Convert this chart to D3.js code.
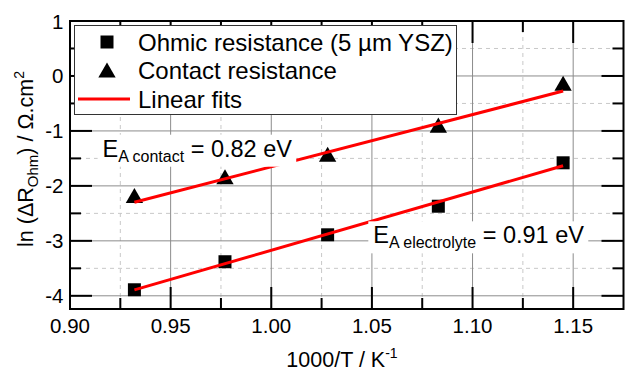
<!DOCTYPE html>
<html>
<head>
<meta charset="utf-8">
<script src="https://cdn.jsdelivr.net/npm/d3@7"></script>
<style>
body { margin:0; background:#fff; }
svg text { font-family: "Liberation Sans", Arial, Helvetica, sans-serif; fill:#000; }
</style>
</head>
<body>
<svg id="vis" width="625" height="370"></svg>
<script>
// 1000/T values of the five measurement temperatures
var invT = [0.932, 0.977, 1.028, 1.083, 1.145];
// ln(R) of the two series
var ohmic = [-3.89, -3.38, -2.89, -2.37, -1.58];
var contact = [-2.22, -1.88, -1.47, -0.94, -0.18];
var xTicks = [0.90, 0.95, 1.00, 1.05, 1.10, 1.15];
var xMinor = [0.925, 0.975, 1.025, 1.075, 1.125];
var yTicks = [-4, -3, -2, -1, 0, 1];
var yMinor = [-3.5, -2.5, -1.5, -0.5, 0.5];
var legendLabels = ["Ohmic resistance (5 \u00b5m YSZ)", "Contact resistance", "Linear fits"];

var margin = {left:70, right:1.5, top:21, bottom:61};
var W = 625, H = 370;
var svg = d3.select("#vis");

var x = d3.scaleLinear().domain([0.9, 1.175]).range([margin.left, W - margin.right]);
var y = d3.scaleLinear().domain([-4.24, 1]).range([H - margin.bottom, margin.top]);

// least squares line
function linfit(xs, ys) {
	var mx = d3.mean(xs), my = d3.mean(ys), sxy = 0, sxx = 0;
	for (var i = 0; i < xs.length; i++) {
		sxy += (xs[i]-mx)*(ys[i]-my);
		sxx += (xs[i]-mx)*(xs[i]-mx);
	}
	var b = sxy/sxx;
	return function(v){ return my + b*(v-mx); };
}

var x0 = x.range()[0], x1 = x.range()[1], y0 = y.range()[0], y1 = y.range()[1];

// grid
var grid = svg.append("g");
grid.selectAll("line.gxm").data(xMinor).enter().append("line")
	.attr("x1", x).attr("x2", x).attr("y1", y1).attr("y2", y0)
	.attr("stroke", "#c8c8c8").attr("stroke-dasharray", "4,4");
grid.selectAll("line.gym").data(yMinor).enter().append("line")
	.attr("x1", x0).attr("x2", x1).attr("y1", y).attr("y2", y)
	.attr("stroke", "#c8c8c8").attr("stroke-dasharray", "4,4");
grid.selectAll("line.gx").data(xTicks.slice(1)).enter().append("line")
	.attr("x1", x).attr("x2", x).attr("y1", y1).attr("y2", y0)
	.attr("stroke", "#8c8c8c");
grid.selectAll("line.gy").data(yTicks.slice(0, -1)).enter().append("line")
	.attr("x1", x0).attr("x2", x1).attr("y1", y).attr("y2", y)
	.attr("stroke", "#8c8c8c");

// markers
var marks = svg.append("g");
marks.selectAll("path.sq").data(invT).enter().append("path")
	.attr("d", d3.symbol(d3.symbolSquare, 169))
	.attr("transform", function(d, i){ return "translate(" + x(d) + "," + y(ohmic[i]) + ")"; })
	.attr("fill", "#000");
marks.selectAll("path.tri").data(invT).enter().append("path")
	.attr("d", d3.symbol(d3.symbolTriangle, 130))
	.attr("transform", function(d, i){ return "translate(" + x(d) + "," + y(contact[i]) + ")"; })
	.attr("fill", "#000");

// fits
var line = d3.line().x(function(d){ return x(d[0]); }).y(function(d){ return y(d[1]); });
[ohmic, contact].forEach(function(s){
	var f = linfit(invT, s);
	var ends = [invT[0], invT[invT.length-1]];
	svg.append("path")
		.attr("d", line(ends.map(function(v){ return [v, f(v)]; })))
		.attr("stroke", "#ff0000").attr("stroke-width", 3).attr("fill", "none");
});

// activation energy labels with white boxes
function label(px, py, sub, rest) {
	var g = svg.append("g");
	var bg = g.append("rect").attr("fill", "#fff");
	var t = g.append("text").attr("x", px).attr("y", py).style("font-size", "23.5px");
	t.append("tspan").text("E");
	t.append("tspan").attr("dy", 5).style("font-size", "16px").text("A " + sub);
	t.append("tspan").attr("dy", -5).text(" = " + rest);
	var bb = t.node().getBBox();
	bg.attr("x", bb.x - 5).attr("y", bb.y - 1).attr("width", bb.width + 9).attr("height", bb.height + 3);
}
label(x(0.9162), y(-1.469), "contact", "0.82 eV");
label(x(1.0507), y(-3.045), "electrolyte", "0.91 eV");

// axes frame and ticks (inward, all four sides)
var ax = svg.append("g").attr("stroke", "#000");
function ticks(vals, len, minor) {
	vals.forEach(function(v){
		ax.append("line").attr("x1", x(v)).attr("x2", x(v)).attr("y1", y0).attr("y2", y0 - len).attr("stroke-width", 2);
		ax.append("line").attr("x1", x(v)).attr("x2", x(v)).attr("y1", y1).attr("y2", y1 + len).attr("stroke-width", 2);
	});
	minor.forEach(function(v){
		ax.append("line").attr("y1", y(v)).attr("y2", y(v)).attr("x1", x0).attr("x2", x0 + len).attr("stroke-width", 2);
		ax.append("line").attr("y1", y(v)).attr("y2", y(v)).attr("x1", x1).attr("x2", x1 - len).attr("stroke-width", 2);
	});
}
ticks(xTicks.slice(1), 22, yTicks.slice(0, -1));
ticks(xMinor, 11, yMinor);
ax.append("rect").attr("x", x0).attr("y", y1).attr("width", x1 - x0).attr("height", y0 - y1)
	.attr("fill", "none").attr("stroke-width", 2);

// tick labels
svg.selectAll("text.xt").data(xTicks).enter().append("text")
	.attr("x", x).attr("y", 333).attr("text-anchor", "middle").style("font-size", "20.5px")
	.text(function(d){ return d.toFixed(2); });
svg.selectAll("text.yt").data(yTicks).enter().append("text")
	.attr("x", x0 - 6.5).attr("y", function(d){ return y(d) + 7.5; }).attr("text-anchor", "end").style("font-size", "20.5px")
	.text(function(d){ return String(d); });

// axis titles
var xt = svg.append("text").attr("x", 342).attr("y", 366.5).attr("text-anchor", "middle").style("font-size", "21.5px");
xt.append("tspan").text("1000/T / K");
xt.append("tspan").attr("dy", -9).style("font-size", "14px").text("-1");

var yt = svg.append("text").attr("transform", "translate(33,159) rotate(-90)").attr("text-anchor", "middle").style("font-size", "21.5px");
yt.append("tspan").text("ln (\u0394R");
yt.append("tspan").attr("dy", 5).style("font-size", "15px").text("Ohm");
yt.append("tspan").attr("dy", -5).text(") / \u03a9.cm");
yt.append("tspan").attr("dy", -9).style("font-size", "14px").text("2");

// legend
var lg = svg.append("g");
lg.append("rect").attr("x", 74.5).attr("y", 25.5).attr("width", 382).attr("height", 89)
	.attr("fill", "#fff").attr("stroke", "#333").attr("stroke-width", 1);
var rowY = [42, 70.5, 99];
lg.append("path").attr("d", d3.symbol(d3.symbolSquare, 169)).attr("transform", "translate(107," + rowY[0] + ")");
lg.append("path").attr("d", d3.symbol(d3.symbolTriangle, 130)).attr("transform", "translate(107," + (rowY[1] + 2) + ")");
lg.append("line").attr("x1", 78).attr("x2", 130).attr("y1", rowY[2]).attr("y2", rowY[2])
	.attr("stroke", "#ff0000").attr("stroke-width", 3);
lg.selectAll("text").data(legendLabels).enter().append("text")
	.attr("x", 138).attr("y", function(d, i){ return rowY[i] + 8.5; })
	.style("font-size", "24px").text(function(d){ return d; });
</script>
</body>
</html>
